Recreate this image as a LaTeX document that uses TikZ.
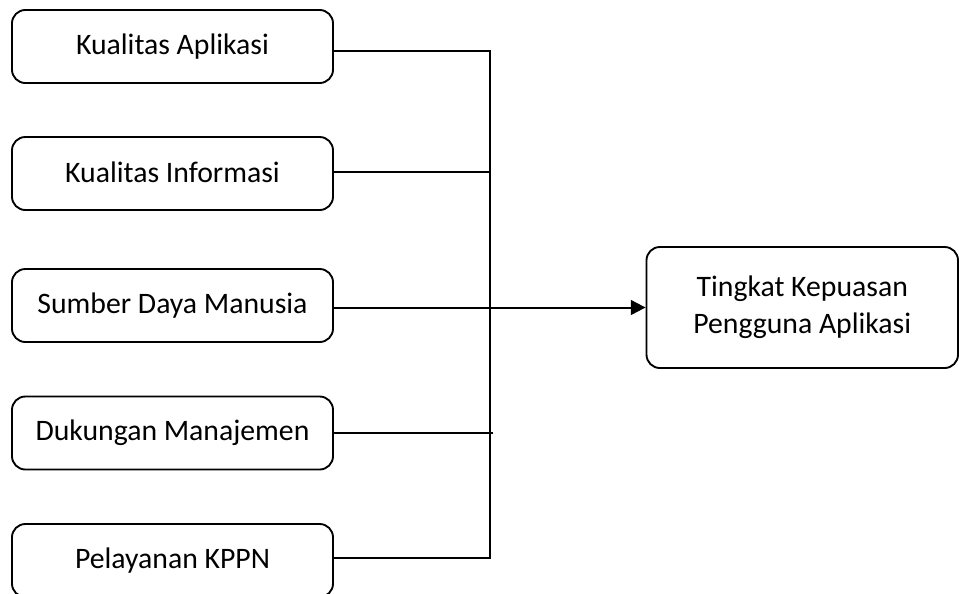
\documentclass[tikz,border=0pt]{standalone}
\usepackage{fontspec}
\setmainfont{Carlito}
\usetikzlibrary{arrows.meta}
\tikzset{
  varbox/.style={draw, line width=1.4pt, rounded corners=10pt, minimum width=240.75pt, minimum height=54.75pt, font=\fontsize{22.3}{27.5}\selectfont, align=center, inner sep=0pt},
  link/.style={line width=1.5pt},
}
\begin{document}
\begin{tikzpicture}[x=0.75pt,y=-0.75pt]
\path[use as bounding box, clip] (0,0) rectangle (959,593);
\node[varbox] (b1) at (172.5,46.5) {\raisebox{2pt}{Kualitas Aplikasi}};
\node[varbox] (b2) at (172.5,173.5) {\raisebox{2pt}{Kualitas Informasi}};
\node[varbox] (b3) at (172.5,305.5) {\raisebox{2pt}{Sumber Daya Manusia}};
\node[varbox] (b4) at (172.5,433) {\raisebox{2pt}{Dukungan Manajemen}};
\node[varbox] (b5) at (172.5,560.5) {\raisebox{2pt}{Pelayanan KPPN}};
\node[varbox, minimum width=233.6pt, minimum height=90.75pt] (t) at (802.25,307.5) {Tingkat Kepuasan\\Pengguna Aplikasi};
\coordinate (j1) at (490,51);
\coordinate (j2) at (490,172);
\coordinate (j4) at (493,433);
\coordinate (j5) at (490,558);
\draw[link] (b1.east |- j1) -- (j1) -- (j5) -- (b5.east |- j5);
\draw[link] (b2.east |- j2) -- (j2);
\draw[link] (b4.east |- j4) -- (j4);
\draw[link, -{Triangle[length=11pt,width=11pt]}] (b3.east |- t.west) -- (t.west);
\end{tikzpicture}
\end{document}
